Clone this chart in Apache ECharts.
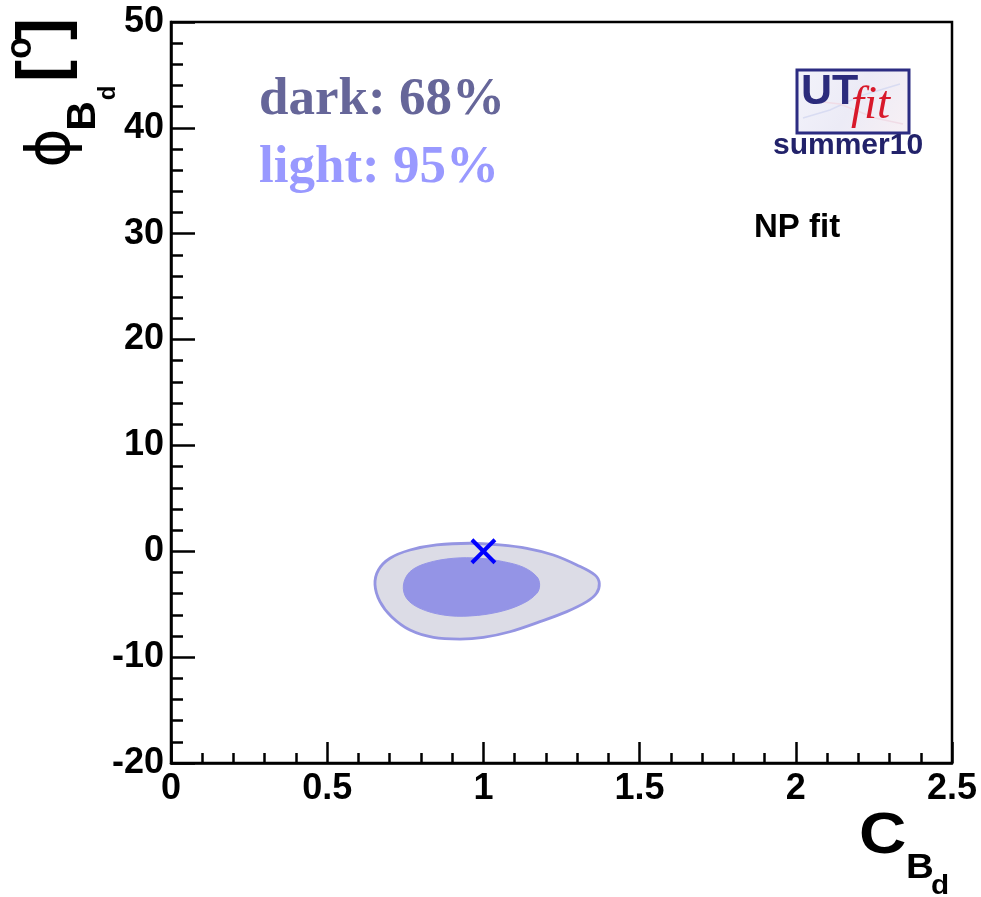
<!DOCTYPE html>
<html>
<head>
<meta charset="utf-8">
<script src="https://cdn.jsdelivr.net/npm/echarts@6/dist/echarts.min.js"></script>
<style>
  html, body { margin: 0; padding: 0; background: #ffffff; }
  #chart { width: 981px; height: 897px; }
</style>
</head>
<body>
<div id="chart"></div>
<script>
// Axis ranges and ticks
const xRange = [0, 2.5];
const yRange = [-20, 50];
const xMajorStep = 0.5;
const yMajorStep = 10;

// 95% probability region (C_Bd, phi_Bd [deg])
const contour95 = [
  [0.653, -3.15], [0.664, -1.77], [0.701, -0.66], [0.765, 0.12], [0.850, 0.60],
  [0.957, 0.76], [1.052, 0.60], [1.139, 0.28], [1.224, -0.35], [1.299, -1.29],
  [1.357, -2.24], [1.371, -3.02], [1.362, -3.97], [1.331, -4.76], [1.267, -5.70],
  [1.181, -6.65], [1.085, -7.60], [1.000, -8.13], [0.925, -8.29], [0.840, -8.13],
  [0.765, -7.44], [0.706, -6.18], [0.669, -4.76]
];

// 68% probability region
const contour68 = [
  [0.744, -3.18], [0.765, -1.93], [0.818, -1.13], [0.904, -0.66], [0.989, -0.66],
  [1.064, -0.98], [1.128, -1.51], [1.171, -2.40], [1.180, -3.18], [1.171, -3.97],
  [1.128, -4.91], [1.052, -5.71], [0.957, -6.11], [0.872, -6.02], [0.797, -5.39],
  [0.754, -4.44]
];

// Standard Model point
const smPoint = [1.0, 0.0];

const labelFont = 'Liberation Sans, Arial, Helvetica, sans-serif';
const serifFont = 'Liberation Serif, Times New Roman, serif';

function contourRenderer(points, fill, stroke, lw) {
  return function (params, api) {
    const pts = points.map(function (p) { return api.coord(p); });
    return {
      type: 'polygon',
      shape: { points: pts, smooth: 0.35 },
      style: { fill: fill, stroke: stroke, lineWidth: lw },
      silent: true
    };
  };
}

const chart = echarts.init(document.getElementById('chart'), null, { renderer: 'canvas' });

const axisLineStyle = { color: '#000', width: 2.5 };

const option = {
  animation: false,
  backgroundColor: '#ffffff',
  grid: {
    left: 171, top: 22, width: 781, height: 741,
    show: true, borderColor: '#000', borderWidth: 2.5, backgroundColor: '#ffffff',
    containLabel: false, outerBoundsMode: 'none'
  },
  xAxis: {
    type: 'value', min: xRange[0], max: xRange[1], interval: xMajorStep,
    axisLine: { show: true, onZero: false, lineStyle: axisLineStyle },
    axisTick: { show: true, inside: true, length: 21, lineStyle: axisLineStyle },
    minorTick: { show: true, splitNumber: 5, length: 10, lineStyle: { color: '#000', width: 2.5 } },
    splitLine: { show: false },
    axisLabel: {
      show: true, margin: 8, color: '#000', fontFamily: labelFont, fontWeight: 'bold', fontSize: 36,
      showMinLabel: true, showMaxLabel: true
    }
  },
  yAxis: {
    type: 'value', min: yRange[0], max: yRange[1], interval: yMajorStep,
    axisLine: { show: true, onZero: false, lineStyle: axisLineStyle },
    axisTick: { show: true, inside: true, length: 24, lineStyle: axisLineStyle },
    minorTick: { show: true, splitNumber: 5, length: 12, lineStyle: { color: '#000', width: 2.5 } },
    splitLine: { show: false },
    axisLabel: {
      show: true, margin: 7, color: '#000', fontFamily: labelFont, fontWeight: 'bold', fontSize: 36,
      showMinLabel: true, showMaxLabel: true
    }
  },
  series: [
    {
      type: 'custom', name: '95%', coordinateSystem: 'cartesian2d', z: 2,
      data: [smPoint],
      renderItem: contourRenderer(contour95, '#dcdce6', '#9595e2', 2.8)
    },
    {
      type: 'custom', name: '68%', coordinateSystem: 'cartesian2d', z: 3,
      data: [smPoint],
      renderItem: contourRenderer(contour68, '#9494e6', '#9494e6', 1)
    },
    {
      type: 'custom', name: 'SM', coordinateSystem: 'cartesian2d', z: 4,
      data: [smPoint],
      renderItem: function (params, api) {
        const c = api.coord([api.value(0), api.value(1)]);
        const h = 11.5;
        const st = { stroke: '#0000ff', lineWidth: 4 };
        return {
          type: 'group',
          children: [
            { type: 'line', shape: { x1: c[0] - h, y1: c[1] - h, x2: c[0] + h, y2: c[1] + h }, style: st },
            { type: 'line', shape: { x1: c[0] - h, y1: c[1] + h, x2: c[0] + h, y2: c[1] - h }, style: st }
          ]
        };
      }
    }
  ],
  graphic: [
    // legend text
    { type: 'text', x: 259, y: 100, z: 10, style: { text: 'dark: 68%', font: 'bold 53px ' + serifFont, fill: '#666699', align: 'left', verticalAlign: 'middle' } },
    { type: 'text', x: 259, y: 168, z: 10, style: { text: 'light: 95%', font: 'bold 53px ' + serifFont, fill: '#9999ff', align: 'left', verticalAlign: 'middle' } },

    // fit label
    { type: 'text', x: 754, y: 228, z: 10, style: { text: 'NP fit', font: 'bold 33px ' + labelFont, fill: '#000', align: 'left', verticalAlign: 'middle' } },

    // UTfit badge
    { type: 'rect', z: 10, shape: { x: 797, y: 70, width: 112, height: 63 },
      style: { fill: new echarts.graphic.LinearGradient(0, 0, 1, 1, [
        { offset: 0, color: '#f3f3fb' }, { offset: 0.5, color: '#ecebf6' }, { offset: 1, color: '#f8f0f4' }
      ]), stroke: '#2c2c82', lineWidth: 3 } },
    { type: 'polyline', z: 10, shape: { points: [[803, 118], [830, 110], [860, 96], [900, 84]] }, style: { stroke: '#d9dcf2', lineWidth: 1.5, fill: null } },
    { type: 'polyline', z: 10, shape: { points: [[806, 100], [840, 104], [875, 118], [903, 124]] }, style: { stroke: '#f0dce6', lineWidth: 1.5, fill: null } },
    { type: 'text', x: 801, y: 92, z: 11, style: { text: 'UT', font: 'bold 43px ' + labelFont, fill: '#2b2b7c', align: 'left', verticalAlign: 'middle' } },
    { type: 'text', x: 851, y: 106, z: 11, style: { text: 'fit', font: 'italic 47px ' + serifFont, fill: '#d8192b', align: 'left', verticalAlign: 'middle' } },
    { type: 'text', x: 773, y: 146, z: 10, style: { text: 'summer10', font: 'bold 30px ' + labelFont, fill: '#22226a', align: 'left', verticalAlign: 'middle' } },

    // x-axis title: C_{B_d}
    { type: 'text', x: 859, y: 837, scaleX: 1.15, z: 10, style: { text: 'C', font: 'bold 57px ' + labelFont, fill: '#000', align: 'left', verticalAlign: 'middle' } },
    { type: 'text', x: 906, y: 868, scaleX: 1.1, z: 10, style: { text: 'B', font: 'bold 35px ' + labelFont, fill: '#000', align: 'left', verticalAlign: 'middle' } },
    { type: 'text', x: 931, y: 887, scaleX: 1.1, z: 10, style: { text: 'd', font: 'bold 27px ' + labelFont, fill: '#000', align: 'left', verticalAlign: 'middle' } },

    // y-axis title: phi_{B_d} [o]
    { type: 'text', x: 53, y: 148, rotation: Math.PI / 2, z: 10, style: { text: 'ϕ', font: '60px DejaVu Sans, sans-serif', fill: '#000', align: 'center', verticalAlign: 'middle' } },
    { type: 'text', x: 84, y: 116, rotation: Math.PI / 2, z: 10, style: { text: 'B', font: 'bold 41px ' + labelFont, fill: '#000', align: 'center', verticalAlign: 'middle' } },
    { type: 'text', x: 108, y: 93, rotation: Math.PI / 2, z: 10, style: { text: 'd', font: 'bold 24px ' + labelFont, fill: '#000', align: 'center', verticalAlign: 'middle' } },
    { type: 'text', x: 45, y: 71, rotation: Math.PI / 2, z: 10, style: { text: '[', font: 'bold 66px ' + labelFont, fill: '#000', align: 'center', verticalAlign: 'middle' } },
    { type: 'text', x: 21, y: 48, rotation: Math.PI / 2, z: 10, style: { text: 'o', font: 'bold 36px ' + labelFont, fill: '#000', align: 'center', verticalAlign: 'middle' } },
    { type: 'text', x: 45, y: 29, rotation: Math.PI / 2, z: 10, style: { text: ']', font: 'bold 66px ' + labelFont, fill: '#000', align: 'center', verticalAlign: 'middle' } }
  ]
};

chart.setOption(option);
</script>
</body>
</html>
